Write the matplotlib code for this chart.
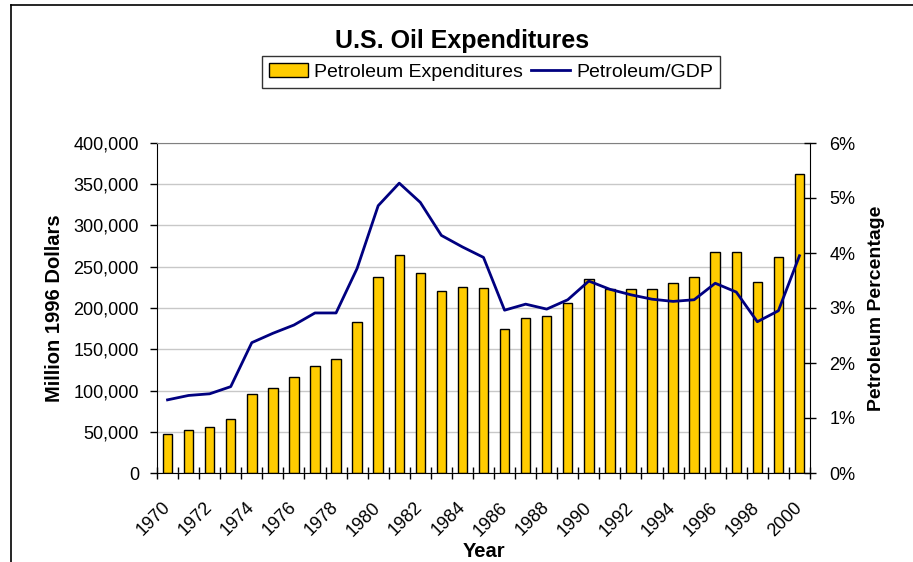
import matplotlib

matplotlib.use("Agg")
import matplotlib.pyplot as plt
from matplotlib.lines import Line2D
from matplotlib.patches import Patch
from matplotlib.ticker import FuncFormatter, FixedLocator

plt.rcParams["font.family"] = ["Liberation Sans", "DejaVu Sans"]

years = list(range(1970, 2001))
expenditures = [
    47000, 52000, 56000, 65000, 96000, 103000, 116000, 130000, 138000, 183000,
    237000, 264000, 242000, 221000, 225000, 224000, 175000, 188000, 190000, 206000,
    235000, 223000, 223000, 223000, 230000, 237000, 268000, 268000, 232000, 262000,
    362000,
]
petro_gdp = [
    1.33, 1.41, 1.44, 1.57, 2.37, 2.54, 2.69, 2.91, 2.91, 3.72,
    4.86, 5.27, 4.92, 4.32, 4.11, 3.92, 2.96, 3.07, 2.98, 3.15,
    3.49, 3.34, 3.24, 3.16, 3.12, 3.15, 3.45, 3.29, 2.75, 2.95,
    3.95,
]
label_years = [str(y) for y in years if y % 2 == 0]

W, H = 913, 562
fig = plt.figure(figsize=(W / 100, H / 100), dpi=100)
ax = fig.add_axes([157 / W, 1 - 473 / H, (810 - 157) / W, (473 - 143) / H])

x = list(range(len(years)))
ax.bar(x, expenditures, width=0.45, color="#FFCC00", edgecolor="black", linewidth=1.0, zorder=2)
ax.set_xlim(-0.5, len(years) - 0.5)
ax.set_ylim(0, 400000)
ax.set_yticks(range(0, 400001, 50000))
ax.yaxis.set_major_formatter(FuncFormatter(lambda v, _: f"{int(v):,}"))
ax.grid(axis="y", color="#c8c8c8", linewidth=1.0)
ax.set_axisbelow(True)
ax.tick_params(axis="y", direction="out", length=5, width=1, pad=8, labelsize=13)

# labels on even years, tick marks between categories
ax.xaxis.set_major_locator(FixedLocator([i for i, y in enumerate(years) if y % 2 == 0]))
ax.set_xticklabels(label_years)
ax.xaxis.set_minor_locator(FixedLocator([i - 0.5 for i in range(len(years) + 1)]))
ax.tick_params(axis="x", which="major", length=0, pad=23, labelsize=13)
ax.tick_params(axis="x", which="minor", direction="inout", length=8, width=1)
for lbl in ax.get_xticklabels():
    lbl.set_rotation(45)
    lbl.set_rotation_mode("anchor")
    lbl.set_ha("right")
    lbl.set_va("center")

ax.spines["top"].set_color("#808080")
ax.spines["right"].set_visible(False)
ax.set_xlabel("Year", fontsize=14.5, fontweight="bold", labelpad=2)
ax.set_ylabel("Million 1996 Dollars", fontsize=14.5, fontweight="bold", labelpad=7)

ax2 = ax.twinx()
ax2.plot(x, petro_gdp, color="#000080", linewidth=2.0, zorder=3)
ax2.set_ylim(0, 6)
ax2.set_yticks(range(0, 7))
ax2.yaxis.set_major_formatter(FuncFormatter(lambda v, _: f"{int(v)}%"))
ax2.tick_params(axis="y", direction="inout", length=8, width=1, pad=10, labelsize=13)
for side in ["top", "left", "bottom"]:
    ax2.spines[side].set_visible(False)
ax2.set_ylabel("Petroleum Percentage", fontsize=14, fontweight="bold", labelpad=9)

fig.text(462 / W, 1 - 41 / H, "U.S. Oil Expenditures", fontsize=18, fontweight="bold",
         ha="center", va="center")

handles = [
    Patch(facecolor="#FFCC00", edgecolor="black", linewidth=1.0),
    Line2D([0], [0], color="#000080", linewidth=2.0),
]
leg = fig.legend(handles, ["Petroleum Expenditures", "Petroleum/GDP"], ncol=2,
                 loc="center", bbox_to_anchor=(491 / W, 1 - 72 / H), fontsize=14,
                 frameon=True, fancybox=False, borderpad=0.35, handlelength=2.0,
                 handletextpad=0.3, columnspacing=0.45, borderaxespad=0)
leg.get_frame().set_edgecolor("black")
leg.get_frame().set_linewidth(1.0)

# chart area border (left and top edges visible)
fig.add_artist(Line2D([11 / W, 11 / W], [0, 1 - 5 / H], transform=fig.transFigure, color="black", lw=1.2))
fig.add_artist(Line2D([11 / W, 1], [1 - 5 / H, 1 - 5 / H], transform=fig.transFigure, color="black", lw=1.2))

fig.savefig("out.png", dpi=100)
